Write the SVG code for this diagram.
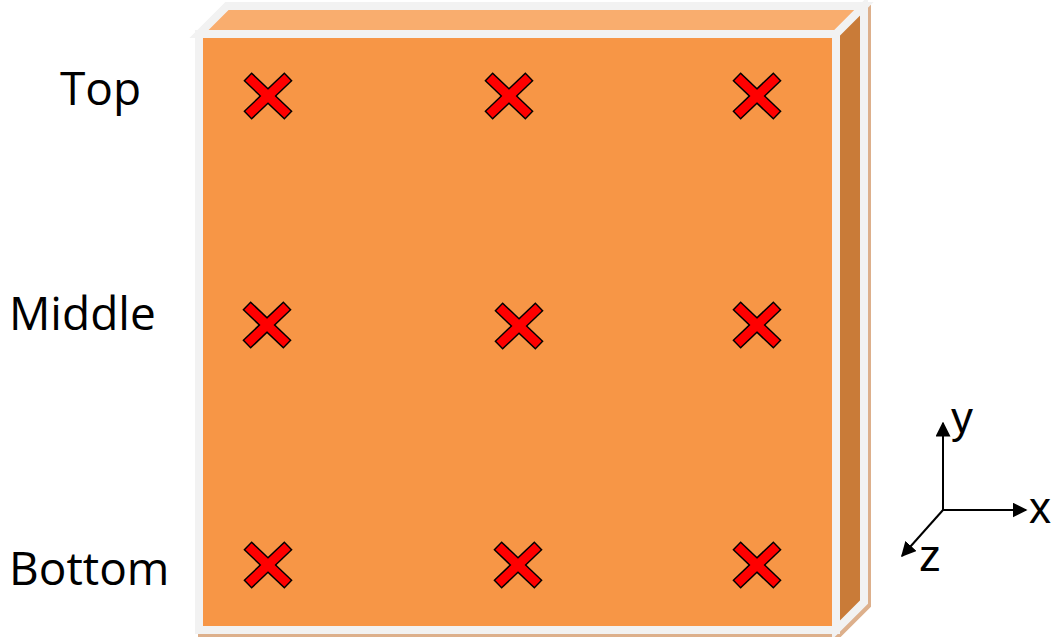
<svg xmlns="http://www.w3.org/2000/svg" width="1053" height="637" viewBox="0 0 1053 637">
  <style>
    .lbl { font-family: "Open Sans", "Liberation Sans", sans-serif; font-size: 46px; fill: #000; }
    .ax { font-family: "Liberation Sans", Arial, sans-serif; font-size: 44px; fill: #000; }
    .edge { stroke: #F2F2F2; stroke-width: 8; stroke-linejoin: miter; }
    .xo { stroke: #000; stroke-width: 12; stroke-linecap: butt; fill: none; }
    .xi { stroke: #FF0000; stroke-width: 9; stroke-linecap: butt; fill: none; }
    .axis { stroke: #000; stroke-width: 2; fill: none; }
  </style>
  <defs>
    <marker id="arr" viewBox="0 0 10 10" refX="9" refY="5" markerWidth="7.5" markerHeight="7.5" orient="auto" markerUnits="strokeWidth">
      <path d="M0,0 L10,5 L0,10 z" fill="#000"/>
    </marker>
    <g id="cross">
      <line class="xo" x1="-20.5" y1="-19.5" x2="20.5" y2="19.5"/>
      <line class="xo" x1="20.5" y1="-19.5" x2="-20.5" y2="19.5"/>
      <line class="xi" x1="-19.5" y1="-18.5" x2="19.5" y2="18.5"/>
      <line class="xi" x1="19.5" y1="-18.5" x2="-19.5" y2="18.5"/>
    </g>
  </defs>
  <rect width="1053" height="637" fill="#fff"/>

  <g id="box">
    <polygon points="199,34 227,6 864,6 864,602 836,630 199,630" transform="translate(3,3)" fill="#DDB08C" stroke="#DDB08C" stroke-width="8"/>
    <polygon class="edge" points="199,34 227,6 864,6 836,34" fill="#F9AD6E"/>
    <polygon class="edge" points="836,34 864,6 864,602 836,630" fill="#C97B38"/>
    <rect class="edge" x="199" y="34" width="637" height="596" fill="#F79646"/>
  </g>

  <g id="crosses">
    <use href="#cross" x="268" y="96"/>
    <use href="#cross" x="509" y="96"/>
    <use href="#cross" x="757" y="96"/>
    <use href="#cross" x="267" y="325"/>
    <use href="#cross" x="519" y="326"/>
    <use href="#cross" x="757" y="325"/>
    <use href="#cross" x="268" y="565"/>
    <use href="#cross" x="518" y="565"/>
    <use href="#cross" x="757" y="565"/>
  </g>

  <g id="labels">
    <text class="lbl" x="60" y="105">Top</text>
    <text class="lbl" x="9" y="330">Middle</text>
    <text class="lbl" x="9" y="585">Bottom</text>
  </g>

  <g id="axes">
    <line class="axis" x1="943" y1="510" x2="943" y2="423" marker-end="url(#arr)"/>
    <line class="axis" x1="943" y1="510" x2="1026" y2="510" marker-end="url(#arr)"/>
    <line class="axis" x1="943" y1="510" x2="902" y2="556" marker-end="url(#arr)"/>
    <text class="ax" x="951" y="433">y</text>
    <text class="ax" x="1029" y="523">x</text>
    <text class="ax" x="919" y="571">z</text>
  </g>
</svg>
